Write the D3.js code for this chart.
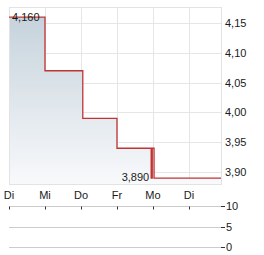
<!DOCTYPE html>
<html>
<head>
<meta charset="utf-8">
<script src="https://cdn.jsdelivr.net/npm/d3@7"></script>
<style>
  body { margin: 0; background: #fff; }
  text { font-family: "Liberation Sans", Arial, sans-serif; font-size: 11px; fill: #1a1a1a; }
</style>
</head>
<body>
<div id="chart"></div>
<script>
// trading-day labels and positions (index of the trading day)
const dayLabels = ["Di", "Mi", "Do", "Fr", "Mo", "Di"];
const dayIndex = [0, 1, 2, 3, 4, 5];

// price steps: time (in trading days) and price
const times = [0, 1.0, 2.05, 3.0, 3.95, 3.98, 4.03, 5.89];
const prices = [4.16, 4.07, 3.99, 3.94, 3.89, 3.94, 3.89, 3.89];

const priceTicks = [3.90, 3.95, 4.00, 4.05, 4.10, 4.15];
const volumeTicks = [0, 5, 10];

const width = 264, height = 255;

const svg = d3.select("#chart").append("svg")
  .attr("width", width)
  .attr("height", height);

const x = d3.scaleLinear().domain([0, 5.89]).range([9, 221]);
const y = d3.scaleLinear().domain([3.88, 4.177]).range([184, 7]);
const yVol = d3.scaleLinear().domain([0, 10]).range([247, 206]);

const loc = d3.formatLocale({ decimal: ",", thousands: ".", grouping: [3], currency: ["", "€"] });
const f3 = loc.format(".3f");
const f2 = loc.format(".2f");

const data = times.map((t, i) => ({ t: t, v: prices[i] }));

// gradient fill
const grad = svg.append("defs").append("linearGradient")
  .attr("id", "fillGrad")
  .attr("x1", 0).attr("y1", 0).attr("x2", 0).attr("y2", 1);
grad.append("stop").attr("offset", "0%").attr("stop-color", "#c6d3dc");
grad.append("stop").attr("offset", "100%").attr("stop-color", "#f8f9fb");

const crisp = v => Math.round(v) + 0.5;

// grid
const grid = svg.append("g").attr("stroke", "#e6e6e6").attr("stroke-width", 1);
grid.selectAll("line.h")
  .data(priceTicks)
  .enter().append("line")
  .attr("x1", x.range()[0]).attr("x2", x.range()[1])
  .attr("y1", d => crisp(y(d))).attr("y2", d => crisp(y(d)));
grid.selectAll("line.v")
  .data(dayIndex)
  .enter().append("line")
  .attr("x1", d => crisp(x(d))).attr("x2", d => crisp(x(d)))
  .attr("y1", y.range()[1]).attr("y2", y.range()[0]);

// area under the step line
const area = d3.area()
  .x(d => x(d.t))
  .y0(y.range()[0])
  .y1(d => y(d.v))
  .curve(d3.curveStepAfter);

svg.append("path")
  .datum(data)
  .attr("fill", "url(#fillGrad)")
  .attr("d", area);

// frame
svg.append("rect")
  .attr("x", crisp(x.range()[0]))
  .attr("y", crisp(y.range()[1]))
  .attr("width", Math.round(x.range()[1]) - Math.round(x.range()[0]))
  .attr("height", Math.round(y.range()[0]) - Math.round(y.range()[1]))
  .attr("fill", "none")
  .attr("stroke", "#e3e3e3");

// price line
const line = d3.line()
  .x(d => x(d.t))
  .y(d => y(d.v))
  .curve(d3.curveStepAfter);

svg.append("path")
  .datum(data)
  .attr("fill", "none")
  .attr("stroke", "#c03434")
  .attr("stroke-width", 1.3)
  .attr("d", line);

// max / min labels
const maxV = d3.max(prices), minV = d3.min(prices);
const maxPt = data.find(d => d.v === maxV);
const minPt = data.find(d => d.v === minV);

svg.append("text")
  .attr("x", x(maxPt.t) + 3)
  .attr("y", y(maxV) + 4)
  .text(f3(maxV));

svg.append("text")
  .attr("x", x(minPt.t) - 2)
  .attr("y", y(minV) + 3)
  .attr("text-anchor", "end")
  .text(f3(minV));

// right price axis labels
svg.append("g").selectAll("text")
  .data(priceTicks)
  .enter().append("text")
  .attr("x", 225)
  .attr("y", d => y(d) + 4)
  .text(d => f2(d));

// day labels
svg.append("g").selectAll("text")
  .data(dayIndex)
  .enter().append("text")
  .attr("x", d => x(d))
  .attr("y", 199)
  .attr("text-anchor", "middle")
  .text((d, i) => dayLabels[i]);

// volume panel
const vol = svg.append("g");
vol.selectAll("line.vg")
  .data(volumeTicks)
  .enter().append("line")
  .attr("x1", x.range()[0]).attr("x2", x.range()[1])
  .attr("y1", d => crisp(yVol(d))).attr("y2", d => crisp(yVol(d)))
  .attr("stroke", "#cccccc");
vol.selectAll("line.vt")
  .data(volumeTicks)
  .enter().append("line")
  .attr("x1", x.range()[1]).attr("x2", x.range()[1] + 4)
  .attr("y1", d => crisp(yVol(d))).attr("y2", d => crisp(yVol(d)))
  .attr("stroke", "#333");
vol.selectAll("text")
  .data(volumeTicks)
  .enter().append("text")
  .attr("x", x.range()[1] + 5)
  .attr("y", d => yVol(d) + 4)
  .text(d => d);
vol.selectAll("line.dt")
  .data(dayIndex)
  .enter().append("line")
  .attr("x1", d => crisp(x(d))).attr("x2", d => crisp(x(d)))
  .attr("y1", crisp(yVol(10))).attr("y2", crisp(yVol(10)) + 3)
  .attr("stroke", "#333");
</script>
</body>
</html>
